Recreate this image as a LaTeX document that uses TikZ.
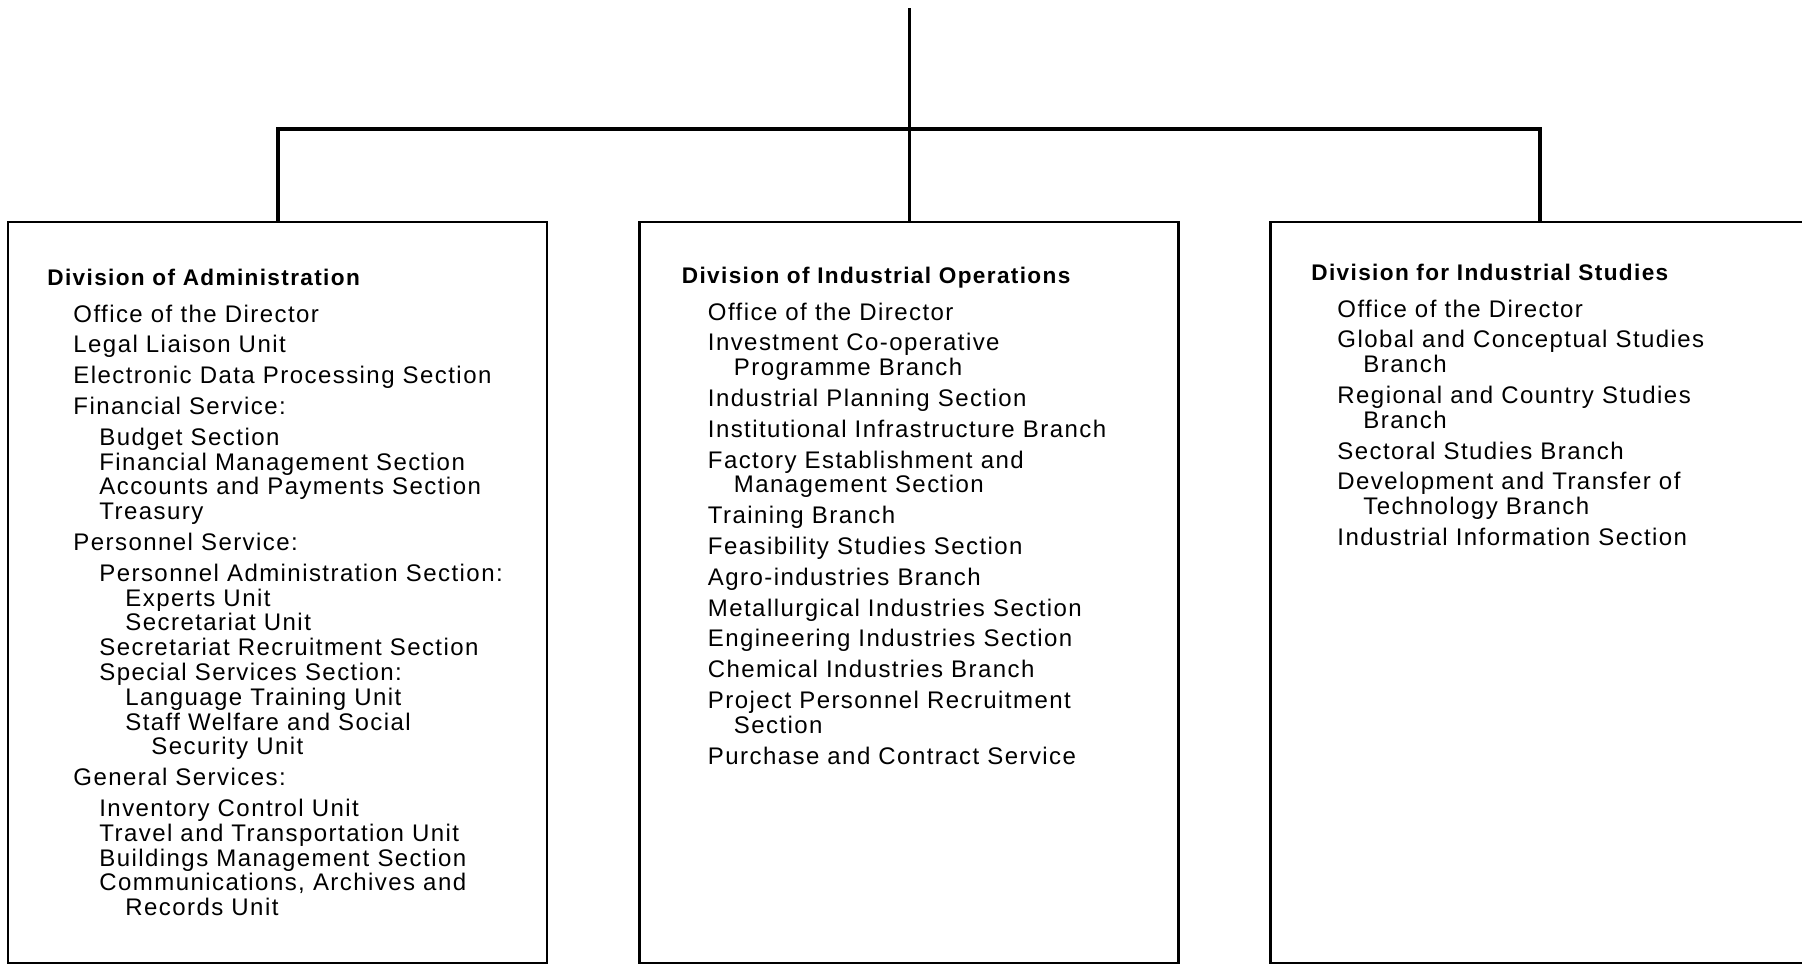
\documentclass[tikz,border=0pt]{standalone}
\usepackage{fontspec}
\setmainfont[LetterSpace=6]{Liberation Sans}
\usepackage{tikz}
\usetikzlibrary{positioning,calc}

\newcommand{\levelone}{\hspace*{13pt}}
\newcommand{\leveltwo}{\hspace*{26pt}}
\newcommand{\levelthree}{\hspace*{39pt}}
\newcommand{\levelfour}{\hspace*{52pt}}
\newcommand{\divtitle}[1]{{\fontsize{11.3}{12.4}\selectfont\bfseries #1}}

\tikzset{
  division/.style={
    rectangle,
    draw=black,
    line width=1.1pt,
    minimum width=269.5pt,
    minimum height=370.5pt,
    inner sep=0pt
  }
}
\tikzset{
  unit list/.style={
    anchor=north west,
    align=left,
    inner sep=0pt,
    font=\fontsize{12}{12.4}\selectfont
  }
}
\tikzset{
  link/.style={
    draw=black,
    line width=2pt,
    line cap=rect
  }
}

\begin{document}
\begin{tikzpicture}[x=0.5pt,y=-0.5pt]

    \useasboundingbox (0,0) rectangle (1802,965);
    \clip (0,0) rectangle (1802,965);

    % ------------------------------------------------------------
    % Boxes
    % ------------------------------------------------------------

    \node[division] (adm) at (277.5,592.5) {};
    \node[division] (ops) at (909,592.5) {};
    \node[division] (std) at (1540,592.5) {};

    \coordinate (head) at (909,9);
    \coordinate (bar) at (0,129);

    % ------------------------------------------------------------
    % Texts
    % ------------------------------------------------------------

    \node[unit list] (admtext) at (47,268.5)
    {
      \divtitle{Division of Administration}\\[6pt]
      \levelone Office of the Director\\[3pt]
      \levelone Legal Liaison Unit\\[3pt]
      \levelone Electronic Data Processing Section\\[3pt]
      \levelone Financial Service:\\[3pt]
      \leveltwo Budget Section\\
      \leveltwo Financial Management Section\\
      \leveltwo Accounts and Payments Section\\
      \leveltwo Treasury\\[3pt]
      \levelone Personnel Service:\\[3pt]
      \leveltwo Personnel Administration Section:\\
      \levelthree Experts Unit\\
      \levelthree Secretariat Unit\\
      \leveltwo Secretariat Recruitment Section\\
      \leveltwo Special Services Section:\\
      \levelthree Language Training Unit\\
      \levelthree Staff Welfare and Social\\
      \levelfour Security Unit\\[3pt]
      \levelone General Services:\\[3pt]
      \leveltwo Inventory Control Unit\\
      \leveltwo Travel and Transportation Unit\\
      \leveltwo Buildings Management Section\\
      \leveltwo Communications, Archives and\\
      \levelthree Records Unit
    };

    \node[unit list] (opstext) at (681.5,266.5)
    {
      \divtitle{Division of Industrial Operations}\\[6pt]
      \levelone Office of the Director\\[3pt]
      \levelone Investment Co-operative\\
      \leveltwo Programme Branch\\[3pt]
      \levelone Industrial Planning Section\\[3pt]
      \levelone Institutional Infrastructure Branch\\[3pt]
      \levelone Factory Establishment and\\
      \leveltwo Management Section\\[3pt]
      \levelone Training Branch\\[3pt]
      \levelone Feasibility Studies Section\\[3pt]
      \levelone Agro-industries Branch\\[3pt]
      \levelone Metallurgical Industries Section\\[3pt]
      \levelone Engineering Industries Section\\[3pt]
      \levelone Chemical Industries Branch\\[3pt]
      \levelone Project Personnel Recruitment\\
      \leveltwo Section\\[3pt]
      \levelone Purchase and Contract Service
    };

    \node[unit list] (stdtext) at (1311,263.5)
    {
      \divtitle{Division for Industrial Studies}\\[6pt]
      \levelone Office of the Director\\[3pt]
      \levelone Global and Conceptual Studies\\
      \leveltwo Branch\\[3pt]
      \levelone Regional and Country Studies\\
      \leveltwo Branch\\[3pt]
      \levelone Sectoral Studies Branch\\[3pt]
      \levelone Development and Transfer of\\
      \leveltwo Technology Branch\\[3pt]
      \levelone Industrial Information Section
    };

    % ------------------------------------------------------------
    % Connectors
    % ------------------------------------------------------------

    \draw[link,line width=1.5pt] (head) -- (ops.north);

    \draw[link]
      (adm.north)
      |-
      (std.north |- bar)
      --
      (std.north);

\end{tikzpicture}
\end{document}
